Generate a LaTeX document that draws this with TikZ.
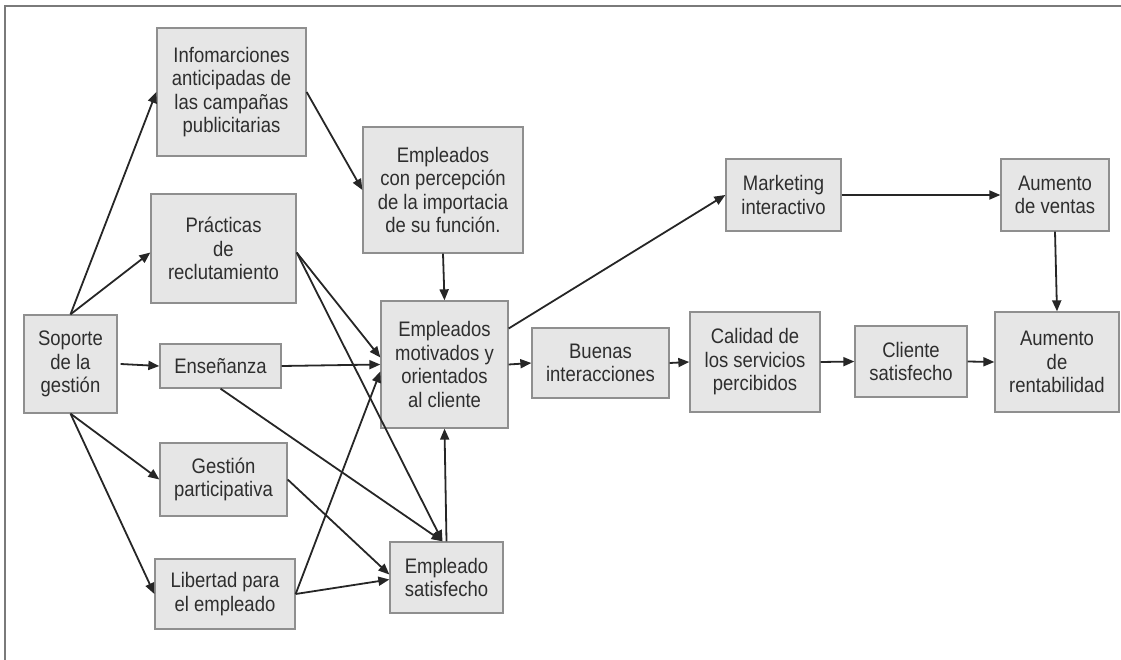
\documentclass[tikz,border=0pt]{standalone}
\usepackage{fontspec}
\setmainfont{Liberation Sans}[FakeStretch=0.88]
\usetikzlibrary{arrows.meta}
\definecolor{boxfill}{HTML}{E6E6E6}
\definecolor{boxline}{HTML}{8F8F8F}
\definecolor{labeltext}{HTML}{2E2E2E}
\definecolor{framegray}{HTML}{7A7A7A}

\begin{document}
\begin{tikzpicture}[x=1pt, y=-1pt,
    stage/.style={draw=boxline, line width=1.3pt, fill=boxfill, text=labeltext, align=center,
        inner sep=0pt, font=\fontsize{21}{23.5}\selectfont},
    link/.style={-{Triangle[length=11pt,width=9pt]}, line width=1.8pt, black!85}]
    \useasboundingbox (0,0) rectangle (1121,660);

    % Frame
    \draw[framegray, line width=1.8pt] (5,660) -- (5,6) -- (1121,6);

    % Management support and its practices
    \node[stage, minimum width=93pt, minimum height=98pt] (soporte) at (70.5,364) {Soporte\\de la\\gestión};
    \node[stage, minimum width=149pt, minimum height=128pt] (info) at (231.5,92) {Infomarciones\\anticipadas de\\las campañas\\publicitarias};
    \node[stage, minimum width=145pt, minimum height=109pt] (practicas) at (223.5,248.5) {Prácticas\\de\\reclutamiento};
    \node[stage, minimum width=121pt, minimum height=44pt] (ensenanza) at (220.5,366) {Enseñanza};
    \node[stage, minimum width=127pt, minimum height=73pt] (gestion) at (223.5,479.5) {Gestión\\participativa};
    \node[stage, minimum width=140pt, minimum height=70pt] (libertad) at (225,594) {Libertad para\\el empleado};

    % Employees
    \node[stage, minimum width=160pt, minimum height=126pt] (percepcion) at (443,190) {Empleados\\con percepción\\de la importacia\\de su función.};
    \node[stage, minimum width=127pt, minimum height=127pt] (motivados) at (444.5,364.5) {Empleados\\motivados y\\orientados\\al cliente};
    \node[stage, minimum width=113pt, minimum height=71pt] (empsat) at (446.5,577.5) {Empleado\\satisfecho};

    % Customer chain
    \node[stage, minimum width=137pt, minimum height=70pt] (buenas) at (600.5,363) {Buenas\\interacciones};
    \node[stage, minimum width=130pt, minimum height=100pt] (calidad) at (755,362) {Calidad de\\los servicios\\percibidos};
    \node[stage, minimum width=112pt, minimum height=71pt] (cliente) at (911,361.5) {Cliente\\satisfecho};
    \node[stage, minimum width=124pt, minimum height=100pt] (rentab) at (1057,362) {Aumento\\de\\rentabilidad};
    \node[stage, minimum width=115pt, minimum height=72pt] (marketing) at (783.5,195) {Marketing\\interactivo};
    \node[stage, minimum width=108pt, minimum height=72pt] (ventas) at (1055,195) {Aumento\\de ventas};

    % Arrows from the management support
    \draw[link] (soporte.north) -- (info.west);
    \draw[link] (soporte.north) -- ([yshift=-4pt]practicas.west);
    \draw[link] ([xshift=3pt]soporte.east) -- (ensenanza.west);
    \draw[link] (soporte.south) -- (gestion.west);
    \draw[link] (soporte.south) -- (libertad.west);

    % Arrows into the employees
    \draw[link] (info.east) -- (percepcion.west);
    \draw[link] (percepcion.south) -- (motivados.north);
    \draw[link] ([yshift=-4pt]practicas.east) -- ([yshift=7pt]motivados.west);
    \draw[link] ([yshift=-4pt]practicas.east) -- ([xshift=-4pt]empsat.north);
    \draw[link] (ensenanza.east) -- (motivados.west);
    \draw[link] (ensenanza.south) -- ([xshift=-4pt]empsat.north);
    \draw[link] (gestion.east) -- ([yshift=3pt]empsat.west);
    \draw[link] (libertad.east) -- ([yshift=-2pt]empsat.west);
    \draw[link] (libertad.east) -- ([yshift=-7pt]motivados.west);
    \draw[link] (empsat.north) -- (motivados.south);

    % Arrows along the customer chain
    \draw[link] ([yshift=36pt]motivados.east) -- (marketing.west);
    \draw[link] (motivados.east) -- (buenas.west);
    \draw[link] (buenas.east) -- (calidad.west);
    \draw[link] (calidad.east) -- (cliente.west);
    \draw[link] (cliente.east) -- (rentab.west);
    \draw[link] (marketing.east) -- (ventas.west);
    \draw[link] (ventas.south) -- (rentab.north);
\end{tikzpicture}
\end{document}
